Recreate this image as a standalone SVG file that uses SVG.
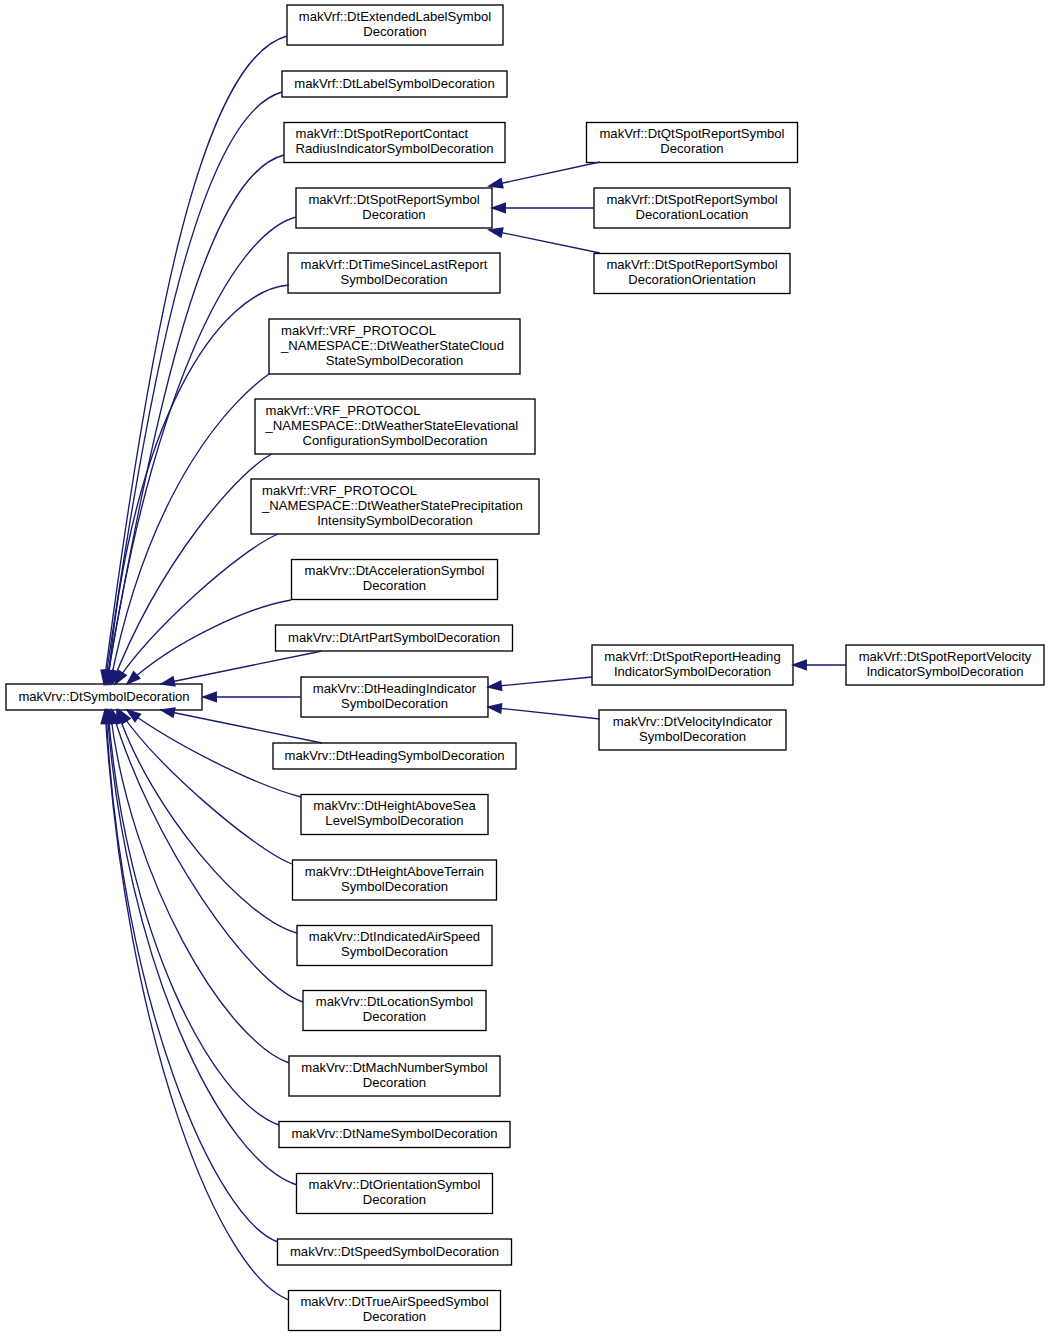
<svg xmlns="http://www.w3.org/2000/svg" width="1051" height="1336" viewBox="0 0 1051 1336">
<style>
.n rect{fill:#ffffff;stroke:#000000;stroke-width:1.33}
.n text{font-family:"Liberation Sans",Arial,Helvetica,sans-serif;font-size:13.1px;fill:#000000;text-anchor:middle}
.n text.l{text-anchor:start}
.e path{fill:none;stroke:#191970;stroke-width:1.33;marker-end:url(#ah)}
</style>
<defs>
<marker id="ah" markerUnits="userSpaceOnUse" orient="auto" markerWidth="16" markerHeight="12" refX="13.3" refY="4.7" overflow="visible">
<path d="M0,0 L13.3,4.7 L0,9.4 Z" fill="#191970" stroke="#191970" stroke-width="1.33"/>
</marker>
</defs>
<rect x="0" y="0" width="1051" height="1336" fill="#ffffff"/>

<g id="root" class="n"><rect x="6" y="684" width="196" height="26"/><text x="104" y="701">makVrv::DtSymbolDecoration</text></g>

<g id="n1" class="n"><rect x="287" y="5" width="216" height="40"/><text x="395" y="20.5">makVrf::DtExtendedLabelSymbol</text><text x="395" y="35.5">Decoration</text></g>
<g id="n2" class="n"><rect x="282" y="71" width="225" height="26"/><text x="394.5" y="87.5">makVrf::DtLabelSymbolDecoration</text></g>
<g id="n3" class="n"><rect x="284" y="122.5" width="221" height="40"/><text class="l" x="295.5" y="138">makVrf::DtSpotReportContact</text><text class="l" x="295.5" y="153">RadiusIndicatorSymbolDecoration</text></g>
<g id="n4" class="n"><rect x="296" y="188" width="196" height="40"/><text x="394" y="203.5">makVrf::DtSpotReportSymbol</text><text x="394" y="218.5">Decoration</text></g>
<g id="n5" class="n"><rect x="288" y="253" width="212" height="40"/><text x="394" y="268.5">makVrf::DtTimeSinceLastReport</text><text x="394" y="283.5">SymbolDecoration</text></g>
<g id="n6" class="n"><rect x="269" y="319" width="251" height="55"/><text class="l" x="281" y="334.5">makVrf::VRF_PROTOCOL</text><text class="l" x="281" y="349.5">_NAMESPACE::DtWeatherStateCloud</text><text x="394.5" y="364.5">StateSymbolDecoration</text></g>
<g id="n7" class="n"><rect x="255" y="399" width="280" height="55"/><text class="l" x="265.5" y="414.5">makVrf::VRF_PROTOCOL</text><text class="l" x="265.5" y="429.5">_NAMESPACE::DtWeatherStateElevational</text><text x="395" y="444.5">ConfigurationSymbolDecoration</text></g>
<g id="n8" class="n"><rect x="251" y="479" width="288" height="55"/><text class="l" x="262" y="494.5">makVrf::VRF_PROTOCOL</text><text class="l" x="262" y="509.5">_NAMESPACE::DtWeatherStatePrecipitation</text><text x="395" y="524.5">IntensitySymbolDecoration</text></g>
<g id="n9" class="n"><rect x="291.5" y="559.5" width="206" height="40"/><text x="394.5" y="575">makVrv::DtAccelerationSymbol</text><text x="394.5" y="590">Decoration</text></g>
<g id="n10" class="n"><rect x="275.5" y="625" width="237" height="26"/><text x="394" y="641.5">makVrv::DtArtPartSymbolDecoration</text></g>
<g id="n11" class="n"><rect x="301" y="677" width="187" height="40"/><text x="394.5" y="692.5">makVrv::DtHeadingIndicator</text><text x="394.5" y="707.5">SymbolDecoration</text></g>
<g id="n12" class="n"><rect x="273" y="743" width="243" height="26"/><text x="394.5" y="759.5">makVrv::DtHeadingSymbolDecoration</text></g>
<g id="n13" class="n"><rect x="301" y="794.5" width="187" height="40"/><text x="394.5" y="810">makVrv::DtHeightAboveSea</text><text x="394.5" y="825">LevelSymbolDecoration</text></g>
<g id="n14" class="n"><rect x="292.5" y="860" width="204" height="40"/><text x="394.5" y="875.5">makVrv::DtHeightAboveTerrain</text><text x="394.5" y="890.5">SymbolDecoration</text></g>
<g id="n15" class="n"><rect x="297" y="925.5" width="195" height="40"/><text x="394.5" y="941">makVrv::DtIndicatedAirSpeed</text><text x="394.5" y="956">SymbolDecoration</text></g>
<g id="n16" class="n"><rect x="303" y="990.5" width="183" height="40"/><text x="394.5" y="1006">makVrv::DtLocationSymbol</text><text x="394.5" y="1021">Decoration</text></g>
<g id="n17" class="n"><rect x="289" y="1056" width="211" height="40"/><text x="394.5" y="1071.5">makVrv::DtMachNumberSymbol</text><text x="394.5" y="1086.5">Decoration</text></g>
<g id="n18" class="n"><rect x="279" y="1121.5" width="231" height="26"/><text x="394.5" y="1138">makVrv::DtNameSymbolDecoration</text></g>
<g id="n19" class="n"><rect x="296.5" y="1173.5" width="196" height="40"/><text x="394.5" y="1189">makVrv::DtOrientationSymbol</text><text x="394.5" y="1204">Decoration</text></g>
<g id="n20" class="n"><rect x="277.5" y="1239" width="234" height="26"/><text x="394.5" y="1255.5">makVrv::DtSpeedSymbolDecoration</text></g>
<g id="n21" class="n"><rect x="288.5" y="1290.5" width="212" height="40"/><text x="394.5" y="1306">makVrv::DtTrueAirSpeedSymbol</text><text x="394.5" y="1321">Decoration</text></g>

<g id="r1" class="n"><rect x="586.5" y="122.5" width="211" height="40"/><text x="692" y="138">makVrf::DtQtSpotReportSymbol</text><text x="692" y="153">Decoration</text></g>
<g id="r2" class="n"><rect x="594" y="188" width="196" height="40"/><text x="692" y="203.5">makVrf::DtSpotReportSymbol</text><text x="692" y="218.5">DecorationLocation</text></g>
<g id="r3" class="n"><rect x="594" y="253.5" width="196" height="40"/><text x="692" y="269">makVrf::DtSpotReportSymbol</text><text x="692" y="284">DecorationOrientation</text></g>
<g id="r4" class="n"><rect x="592" y="645" width="201" height="40"/><text x="692.5" y="660.5">makVrf::DtSpotReportHeading</text><text x="692.5" y="675.5">IndicatorSymbolDecoration</text></g>
<g id="r5" class="n"><rect x="599" y="710" width="187" height="40"/><text x="692.5" y="725.5">makVrv::DtVelocityIndicator</text><text x="692.5" y="740.5">SymbolDecoration</text></g>
<g id="r6" class="n"><rect x="846" y="645" width="198" height="40"/><text x="945" y="660.5">makVrf::DtSpotReportVelocity</text><text x="945" y="675.5">IndicatorSymbolDecoration</text></g>

<g id="edges" class="e">
<path d="M287,36 C200,60 150,330 104,684"/>
<path d="M282,92 C200,115 150,370 105,684"/>
<path d="M284,155 C205,175 155,410 106,684"/>
<path d="M296,217 C230,235 150,400 107,684"/>
<path d="M289,285 C220,290 130,420 108,684"/>
<path d="M269,374 C235,398 150,480 110,684"/>
<path d="M272,454 C240,470 160,560 112,684"/>
<path d="M278,534 C240,550 150,630 115,684"/>
<path d="M291,600 C250,607 175,640 127,684"/>
<path d="M322,651 L161,684"/>
<path d="M301,697 L203,697"/>
<path d="M322,743 L161,710"/>
<path d="M301,797 C255,785 175,745 127,710"/>
<path d="M292,864 C255,850 155,765 119,710"/>
<path d="M297,933 C245,920 150,810 117,710"/>
<path d="M303,1002 C250,985 150,840 112,710"/>
<path d="M289,1063 C225,1040 130,880 110,710"/>
<path d="M279,1125 C210,1100 125,930 108,710"/>
<path d="M297,1185 C220,1160 125,960 107,710"/>
<path d="M278,1242 C215,1220 120,1000 106,710"/>
<path d="M289,1300 C220,1275 125,1040 105,710"/>
<path d="M600,162 L489,186"/>
<path d="M594,208 L492,208"/>
<path d="M600,253 L489,230"/>
<path d="M592,677 L488,687"/>
<path d="M600,719 L488,707"/>
<path d="M846,665 L793,665"/>
</g>
</svg>
